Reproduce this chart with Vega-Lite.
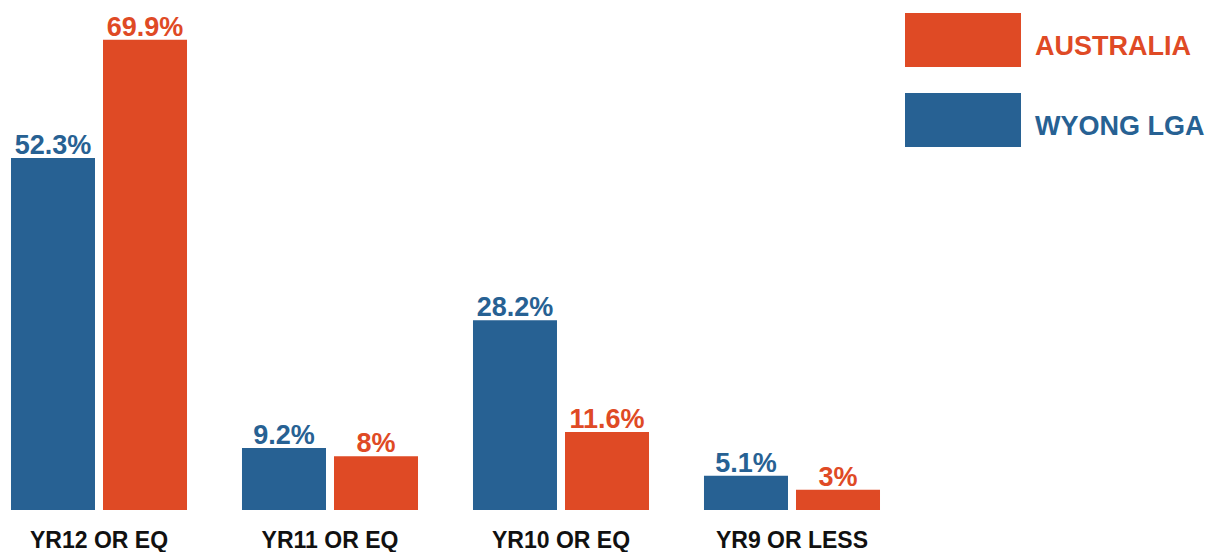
{
  "$schema": "https://vega.github.io/schema/vega-lite/v6.json",
  "width": 891,
  "height": 510,
  "padding": 0,
  "background": "white",
  "config": {"view": {"stroke": null}, "font": "Liberation Sans"},
  "data": {
    "values": [
      {"level": "YR12 OR EQ", "region": "WYONG LGA", "share": 0.523},
      {"level": "YR12 OR EQ", "region": "AUSTRALIA", "share": 0.699},
      {"level": "YR11 OR EQ", "region": "WYONG LGA", "share": 0.092},
      {"level": "YR11 OR EQ", "region": "AUSTRALIA", "share": 0.08},
      {"level": "YR10 OR EQ", "region": "WYONG LGA", "share": 0.282},
      {"level": "YR10 OR EQ", "region": "AUSTRALIA", "share": 0.116},
      {"level": "YR9 OR LESS", "region": "WYONG LGA", "share": 0.051},
      {"level": "YR9 OR LESS", "region": "AUSTRALIA", "share": 0.03}
    ]
  },
  "encoding": {
    "x": {
      "field": "level",
      "type": "nominal",
      "sort": ["YR12 OR EQ", "YR11 OR EQ", "YR10 OR EQ", "YR9 OR LESS"],
      "scale": {"paddingInner": 0.238, "paddingOuter": 0.0476},
      "axis": {
        "title": null,
        "domain": false,
        "ticks": false,
        "labelAngle": 0,
        "labelFont": "Liberation Sans",
        "labelFontWeight": "bold",
        "labelFontSize": 23,
        "labelColor": "#111111",
        "labelBaseline": "alphabetic",
        "labelPadding": 37
      }
    },
    "xOffset": {
      "field": "region",
      "type": "nominal",
      "sort": ["WYONG LGA", "AUSTRALIA"],
      "scale": {"paddingInner": 0.087, "paddingOuter": 0}
    },
    "y": {
      "field": "share",
      "type": "quantitative",
      "scale": {"domain": [0, 0.758], "nice": false},
      "axis": null
    },
    "color": {
      "field": "region",
      "type": "nominal",
      "scale": {"domain": ["WYONG LGA", "AUSTRALIA"], "range": ["#276193", "#DF4A25"]},
      "legend": {
        "title": null,
        "orient": "none",
        "legendX": 936,
        "legendY": 13,
        "values": ["AUSTRALIA", "WYONG LGA"],
        "symbolType": "M-2.148,-1L2.148,-1L2.148,1L-2.148,1Z",
        "symbolSize": 2916,
        "symbolStrokeWidth": 0,
        "symbolOpacity": 1,
        "labelFont": "Liberation Sans",
        "labelFontWeight": "bold",
        "labelFontSize": 27,
        "labelOffset": 45,
        "rowPadding": 26,
        "labelLimit": 400,
        "encode": {
          "labels": {"update": {
            "fill": {"signal": "datum.value === 'AUSTRALIA' ? '#DF4A25' : '#276193'"},
            "dy": {"value": 7}
          }}
        }
      }
    }
  },
  "layer": [
    {"mark": {"type": "bar"}},
    {
      "mark": {"type": "text", "baseline": "alphabetic", "align": "center", "dy": -4, "font": "Liberation Sans", "fontWeight": "bold", "fontSize": 27},
      "encoding": {
        "text": {"field": "share", "type": "quantitative", "format": ".3~%"}
      }
    }
  ]
}
